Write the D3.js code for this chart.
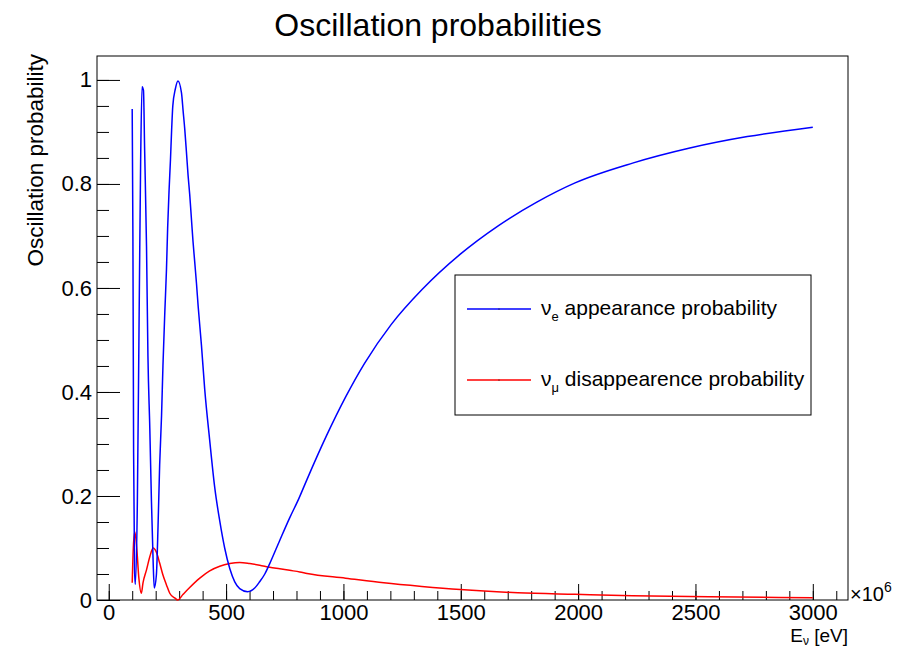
<!DOCTYPE html>
<html>
<head>
<meta charset="utf-8">
<script src="https://cdn.jsdelivr.net/npm/d3@7"></script>
<style>
  body { margin: 0; background: #fff; }
  svg { font-family: "Liberation Sans", Arial, sans-serif; }
</style>
</head>
<body>
<div id="graphicContainer"></div>
<script>

// nu_e appearance probability (energy in MeV, x1e6 eV)
const blueE = [100, 103, 106, 110, 113, 122, 129, 136, 142, 148, 153, 161, 167, 175, 182, 189, 194,
  203, 210, 217, 225, 231, 239, 246, 251, 257, 263, 268, 273, 284, 295, 310, 317, 324, 331, 338,
  345, 352, 359, 366, 374, 381, 395, 409, 430, 452, 473, 494, 516, 537, 558, 592, 622, 643, 665,
  686, 729, 771, 810, 845, 927, 1009, 1090, 1204, 1335, 1498, 1661, 1824, 1987, 2232, 2476, 2721, 3000]
const blueP = [0.944, 0.698, 0.283, 0.06, 0.03, 0.19, 0.52, 0.846, 0.987, 0.98, 0.865, 0.68, 0.47,
  0.33, 0.19, 0.077, 0.023, 0.048, 0.14, 0.26, 0.354, 0.45, 0.554, 0.635, 0.715, 0.787, 0.846,
  0.904, 0.95, 0.983, 0.998, 0.975, 0.94, 0.905, 0.862, 0.817, 0.78, 0.735, 0.69, 0.652, 0.608,
  0.565, 0.49, 0.405, 0.308, 0.215, 0.152, 0.1, 0.06, 0.035, 0.022, 0.016, 0.023, 0.035, 0.05,
  0.07, 0.115, 0.158, 0.195, 0.232, 0.315, 0.39, 0.455, 0.53, 0.597, 0.665, 0.72, 0.765,
  0.802, 0.84, 0.869, 0.891, 0.909]

// nu_mu disappearence probability
const redE = [100, 105, 111, 119, 128, 139, 146, 161, 175, 189, 203, 217, 231, 246, 260, 281, 294,
  317, 345, 388, 430, 473, 516, 558, 601, 643, 686, 729, 771, 814, 845, 1009, 1172, 1334, 1498,
  1743, 1986, 2232, 2557, 3000]
const redP = [0.033, 0.102, 0.131, 0.102, 0.044, 0.013, 0.033, 0.058, 0.083, 0.1, 0.092, 0.071,
  0.048, 0.029, 0.013, 0.004, 0.0, 0.011, 0.024, 0.042, 0.056, 0.065, 0.07, 0.072, 0.07, 0.067,
  0.063, 0.06, 0.057, 0.054, 0.051, 0.042, 0.033, 0.026, 0.02, 0.014, 0.011, 0.0083, 0.0063, 0.0044]

const xTicks = [0, 500, 1000, 1500, 2000, 2500, 3000]
const xMinorTicks = d3.range(0, 3101, 100)
const yTicks = [0, 0.2, 0.4, 0.6, 0.8, 1]
const yTickLabels = ["0", "0.2", "0.4", "0.6", "0.8", "1"]
const yMinorTicks = d3.range(0, 21).map(i => i * 0.05)

const width = 914, height = 648
const marginleft = 97, marginright = 66, margintop = 56, marginbottom = 48

const svg = d3.select("#graphicContainer").append("svg")
  .attr("width", width)
  .attr("height", height)

const x = d3.scaleLinear()
  .domain([-50, 3150])
  .range([marginleft, width - marginright])

const y = d3.scaleLinear()
  .domain([0, 1.046])
  .range([height - marginbottom, margintop])

const x0 = x.range()[0], x1 = x.range()[1]
const yb = y.range()[0], yt = y.range()[1]

// title
svg.append("text")
  .attr("x", 438)
  .attr("y", 36)
  .attr("text-anchor", "middle")
  .attr("font-size", 32)
  .text("Oscillation probabilities")

// axes
const xMinor = d3.axisBottom(x).tickValues(xMinorTicks).tickSize(-9).tickFormat("")
const xMajor = d3.axisBottom(x).tickValues(xTicks).tickSize(-16).tickPadding(4)
  .tickFormat(d => d)
const yMinor = d3.axisLeft(y).tickValues(yMinorTicks).tickSize(-12).tickFormat("")
const yMajor = d3.axisLeft(y).tickValues(yTicks).tickSize(-23).tickPadding(5)
  .tickFormat((d, i) => yTickLabels[i])

svg.append("g").attr("transform", `translate(0,${yb})`).call(xMinor)
svg.append("g").attr("transform", `translate(0,${yb})`).call(xMajor)
svg.append("g").attr("transform", `translate(${x0},0)`).call(yMinor)
svg.append("g").attr("transform", `translate(${x0},0)`).call(yMajor)

svg.selectAll(".domain").remove()
svg.selectAll(".tick line").attr("stroke", "#000").attr("stroke-width", 1)
svg.selectAll(".tick text")
  .attr("font-size", 22)
  .attr("font-family", "Liberation Sans, Arial, sans-serif")
  .attr("fill", "#000")

// frame
svg.append("rect")
  .attr("x", x0)
  .attr("y", yt)
  .attr("width", x1 - x0)
  .attr("height", yb - yt)
  .attr("fill", "none")
  .attr("stroke", "#000")
  .attr("stroke-width", 1)

// x10^6
const mult = svg.append("text")
  .attr("x", x1 + 2)
  .attr("y", yb + 1)
  .attr("font-size", 20)
mult.append("tspan").text("\u00d710")
mult.append("tspan").attr("font-size", 14).attr("dy", -9).text("6")

// axis titles
const xTitle = svg.append("text")
  .attr("x", x1)
  .attr("y", 642)
  .attr("text-anchor", "end")
  .attr("font-size", 19)
xTitle.append("tspan").text("E")
xTitle.append("tspan").attr("font-size", 12).attr("dy", 3).text("\u03bd")
xTitle.append("tspan").attr("dy", -3).text(" [eV]")

svg.append("text")
  .attr("transform", `translate(43,${yt - 2}) rotate(-90)`)
  .attr("text-anchor", "end")
  .attr("font-size", 22.5)
  .text("Oscillation probability")

// curves
const line = d3.line()
  .x(d => x(d[0]))
  .y(d => y(d[1]))
  .curve(d3.curveMonotoneX)

const plot = svg.append("g")

plot.append("path")
  .datum(redE.map((e, i) => [e, redP[i]]))
  .attr("d", line)
  .attr("fill", "none")
  .attr("stroke", "#ff0000")
  .attr("stroke-width", 1.5)

plot.append("path")
  .datum(blueE.map((e, i) => [e, blueP[i]]))
  .attr("d", line)
  .attr("fill", "none")
  .attr("stroke", "#0000ff")
  .attr("stroke-width", 1.5)

// legend
const legend = svg.append("g")

legend.append("rect")
  .attr("x", 455)
  .attr("y", 275)
  .attr("width", 356)
  .attr("height", 140)
  .attr("fill", "#fff")
  .attr("stroke", "#000")
  .attr("stroke-width", 1)

const entries = [
  { color: "#0000ff", sub: "e", text: " appearance probability", ly: 309 },
  { color: "#ff0000", sub: "\u03bc", text: " disappearence probability", ly: 380 }
]

entries.forEach(e => {
  legend.append("line")
    .attr("x1", 467).attr("x2", 531)
    .attr("y1", e.ly).attr("y2", e.ly)
    .attr("stroke", e.color)
    .attr("stroke-width", 1.5)
  legend.append("circle")
    .attr("cx", 499).attr("cy", e.ly).attr("r", 0.6)
    .attr("fill", "#000")
  const t = legend.append("text")
    .attr("x", 541)
    .attr("y", e.ly + 6)
    .attr("font-size", 21)
  t.append("tspan").text("\u03bd")
  t.append("tspan").attr("font-size", 13).attr("dy", 6).text(e.sub)
  t.append("tspan").attr("dy", -6).text(e.text)
})

</script>
</body>
</html>
